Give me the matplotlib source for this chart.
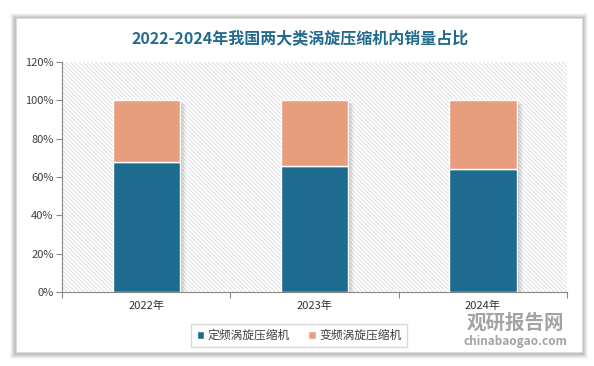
import matplotlib.pyplot as plt
from matplotlib.patches import Rectangle
import numpy as np

plt.rcParams['font.family'] = ['Noto Sans CJK SC', 'DejaVu Sans']
plt.rcParams['hatch.linewidth'] = 0.6
plt.rcParams['hatch.color'] = '#dadada'

# data
years = ['2022年', '2023年', '2024年']
fixed_freq = [67.6, 65.6, 64.4]      # 定频涡旋压缩机
var_freq = [32.4, 34.4, 35.6]        # 变频涡旋压缩机
series_names = ['定频涡旋压缩机', '变频涡旋压缩机']
colors = ['#1d6b8f', '#e89d7c']
title = '2022-2024年我国两大类涡旋压缩机内销量占比'

fig = plt.figure(figsize=(5.94, 3.66), dpi=100)
fig.patch.set_facecolor('white')

# card with soft shadow
W, H = 594, 366
x0, y0, x1, y1 = 16, 18, 582, 352
for i, a in enumerate([0.03, 0.04, 0.05, 0.06, 0.07]):
    d = 6 - i
    fig.patches.append(Rectangle(((x0 - d) / W, 1 - (y1 + d + 1) / H),
                                 (x1 - x0 + 2 * d) / W, (y1 - y0 + 2 * d) / H,
                                 transform=fig.transFigure, facecolor='black',
                                 alpha=a, lw=0, zorder=0))
fig.patches.append(Rectangle((x0 / W, 1 - y1 / H), (x1 - x0) / W, (y1 - y0) / H,
                             transform=fig.transFigure, facecolor='white',
                             edgecolor='#dddddd', lw=0.6, zorder=1))

ax = fig.add_axes([62 / W, 1 - 292 / H, 505 / W, 230 / H])
ax.set_zorder(2)
ax.patch.set_alpha(0)

x = np.arange(len(years))
ax.set_xlim(-0.5, 2.5)
ax.set_ylim(0, 120)

# hatched background
ax.add_patch(Rectangle((-0.5, 0), 3, 120, facecolor='white', edgecolor='#dadada',
                       hatch='\\' * 8, lw=0, zorder=0))

bw = 0.4
# bar shadows
top = np.array(fixed_freq) + np.array(var_freq)
for k, a in enumerate([0.05, 0.07, 0.09]):
    off = 0.012 * (3 - k)
    ax.bar(x + off, top, bw, bottom=-0.6 * (3 - k), color='black', alpha=a, lw=0, zorder=1)

ax.bar(x, fixed_freq, bw, color=colors[0], edgecolor='white', lw=1.0,
       label=series_names[0], zorder=3)
ax.bar(x, var_freq, bw, bottom=fixed_freq, color=colors[1], edgecolor='white', lw=1.0,
       label=series_names[1], zorder=3)

ax.set_yticks(range(0, 121, 20))
ax.set_yticklabels([f'{v}%' for v in range(0, 121, 20)])
ax.set_xticks([-0.5, 0.5, 1.5, 2.5])
ax.set_xticklabels([])
ax.set_xticks(x, minor=True)
ax.set_xticklabels(years, minor=True)
ax.tick_params(axis='x', which='minor', length=0, pad=6, labelsize=8, labelcolor='#333333')
ax.tick_params(axis='x', which='major', length=4, color='#888888')
ax.tick_params(axis='y', length=4, color='#888888', labelsize=8, labelcolor='#404040', pad=2)
for s in ['top', 'right']:
    ax.spines[s].set_visible(False)
for s in ['left', 'bottom']:
    ax.spines[s].set_color('#888888')
    ax.spines[s].set_linewidth(0.8)

fig.text(300 / W, 1 - 38 / H, title, ha='center', va='center', fontsize=11.5,
         fontweight='bold', color='#236b8e', zorder=5)

leg = fig.legend(loc='center', bbox_to_anchor=(299 / W, 1 - 335.5 / H), ncol=2,
                 fontsize=8.5, frameon=True, fancybox=False, edgecolor='#d0d0d0',
                 handlelength=0.6, handleheight=0.6, handletextpad=0.3,
                 columnspacing=1.6, borderpad=0.45)
for t in leg.get_texts():
    t.set_color('#404040')
leg.set_zorder(5)

# watermark
fig.text(515 / W, 1 - 323 / H, '观研报告网', ha='center', va='center', fontsize=14,
         fontweight='bold', color='#8c8c8c', alpha=0.8, zorder=6)
fig.text(515 / W, 1 - 341 / H, 'chinabaogao.com', ha='center', va='center', fontsize=8.5,
         fontweight='bold', color='#8c8c8c', alpha=0.8, zorder=6)

fig.savefig('out.png', dpi=100, facecolor='white')
